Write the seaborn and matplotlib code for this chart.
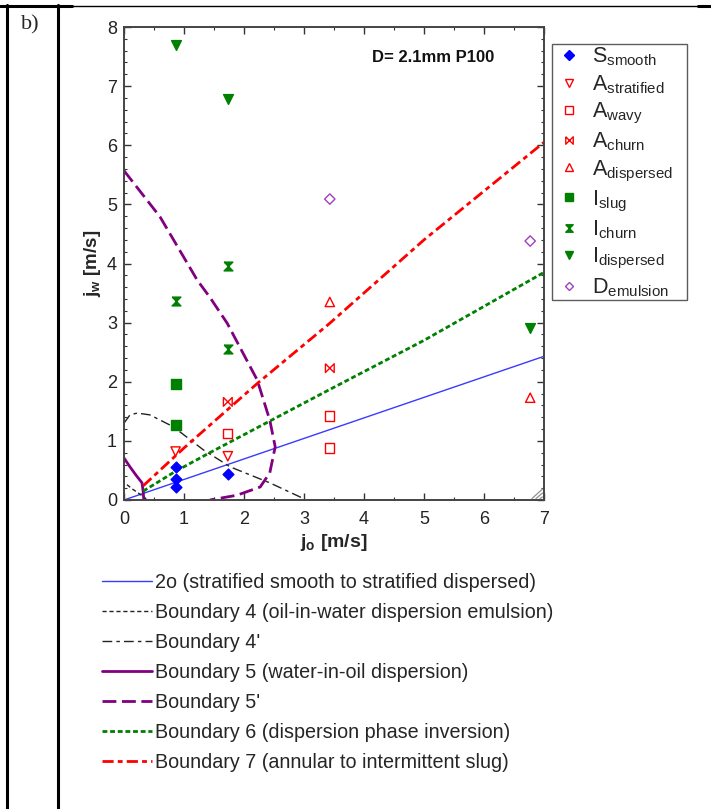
import matplotlib
matplotlib.use("Agg")
import matplotlib.pyplot as plt
from matplotlib.lines import Line2D
import seaborn as sns

# ---- observed flow patterns: superficial oil velocity j_o vs water velocity j_w [m/s]
s_smooth_jo = [0.86, 0.86, 0.86, 1.73]
s_smooth_jw = [0.56, 0.35, 0.22, 0.44]
a_strat_jo = [0.86, 1.73]
a_strat_jw = [0.82, 0.74]
a_wavy_jo = [1.73, 3.43, 3.43]
a_wavy_jw = [1.12, 1.42, 0.88]
a_churn_jo = [1.73, 3.43]
a_churn_jw = [1.66, 2.23]
a_disp_jo = [3.43, 6.77]
a_disp_jw = [3.35, 1.73]
i_slug_jo = [0.86, 0.86]
i_slug_jw = [1.96, 1.27]
i_churn_jo = [0.86, 1.73, 1.73]
i_churn_jw = [3.37, 2.55, 3.96]
i_disp_jo = [0.86, 1.73, 6.77]
i_disp_jw = [7.70, 6.78, 2.91]
d_emul_jo = [3.43, 6.77]
d_emul_jw = [5.09, 4.38]

# ---- transition boundaries
b2o_jo = [0.0, 7.0]
b2o_jw = [0.0, 2.43]
b4_jo = [0.05, 0.12, 0.22, 0.32, 0.37]
b4_jw = [0.26, 0.20, 0.13, 0.06, 0.02]
b4p_jo = [0.0, 0.1, 0.22, 0.43, 0.82, 1.32, 1.77, 2.43, 2.98]
b4p_jw = [1.30, 1.44, 1.47, 1.44, 1.24, 0.85, 0.56, 0.29, 0.03]
b5_jo = [0.0, 0.1, 0.2, 0.3, 0.32, 0.33]
b5_jw = [0.71, 0.56, 0.42, 0.29, 0.14, 0.0]
b5p_jo = [0.0, 0.6, 1.22, 1.43, 1.72, 2.22, 2.43, 2.52, 2.43, 2.27, 1.88, 1.43]
b5p_jw = [5.57, 4.79, 3.72, 3.43, 2.99, 2.03, 1.35, 0.90, 0.46, 0.22, 0.08, 0.0]
b6_jo = [0.32, 0.85, 1.43, 3.43, 5.0, 7.0]
b6_jw = [0.15, 0.48, 0.80, 1.87, 2.70, 3.85]
b7_jo = [0.32, 1.0, 2.22, 3.43, 5.0, 7.0]
b7_jw = [0.24, 0.88, 1.97, 2.99, 4.40, 6.05]

x_ticks = [0, 1, 2, 3, 4, 5, 6, 7]
y_ticks = [0, 1, 2, 3, 4, 5, 6, 7, 8]

sns.set_style("ticks")
plt.rcParams["font.family"] = ["Liberation Sans", "DejaVu Sans"]
plt.rcParams["mathtext.fontset"] = "custom"
plt.rcParams["mathtext.rm"] = "Liberation Sans"
plt.rcParams["mathtext.it"] = "Liberation Sans:italic:bold"
plt.rcParams["mathtext.bf"] = "Liberation Sans:bold"
plt.rcParams["mathtext.default"] = "regular"
plt.rcParams["lines.scale_dashes"] = False

W, H = 711, 809
fig = plt.figure(figsize=(W / 100, H / 100), dpi=100)
ax = fig.add_axes([124 / W, 1 - 500 / H, 420 / W, 473 / H])

RED = "#ff0000"
GREEN = "#008000"
BLUE = "#0000ff"

# boundary curves
lines = [
    (b2o_jo, b2o_jw, "2o (stratified smooth to stratified dispersed)", "#3a3aff", 1.0, "-"),
    (b4_jo, b4_jw, "Boundary 4 (oil-in-water dispersion emulsion)", "#222222", 1.0, (0, (3, 2))),
    (b4p_jo, b4p_jw, "Boundary 4'", "#222222", 1.0, (0, (7, 3, 2.5, 3))),
    (b5_jo, b5_jw, "Boundary 5 (water-in-oil dispersion)", "#800080", 2.0, "-"),
    (b5p_jo, b5p_jw, "Boundary 5'", "#800080", 2.0, (0, (10, 4))),
    (b6_jo, b6_jw, "Boundary 6 (dispersion phase inversion)", GREEN, 2.0, (0, (3.5, 2))),
    (b7_jo, b7_jw, "Boundary 7 (annular to intermittent slug)", RED, 2.0, (0, (8, 3, 3.5, 3))),
]
line_handles = []
for xs, ys, lab, col, lw, ls in lines:
    sns.lineplot(x=xs, y=ys, sort=False, estimator=None, color=col, lw=lw,
                 linestyle=ls, ax=ax, legend=False)
    line_handles.append(Line2D([], [], color=col, lw=lw, linestyle=ls))
line_labels = [l[2] for l in lines]

hourglass = [(-1, 1), (1, 1), (-1, -1), (1, -1), (-1, 1)]
bowtie = [(-1, 1), (-1, -1), (1, 1), (1, -1), (-1, 1)]

points = [
    (s_smooth_jo, s_smooth_jw, r"S$_{smooth}$", "D", BLUE, True, 30),
    (a_strat_jo, a_strat_jw, r"A$_{stratified}$", "v", RED, False, 45),
    (a_wavy_jo, a_wavy_jw, r"A$_{wavy}$", "s", RED, False, 45),
    (a_churn_jo, a_churn_jw, r"A$_{churn}$", bowtie, RED, False, 40),
    (a_disp_jo, a_disp_jw, r"A$_{dispersed}$", "^", RED, False, 45),
    (i_slug_jo, i_slug_jw, r"I$_{slug}$", "s", GREEN, True, 50),
    (i_churn_jo, i_churn_jw, r"I$_{churn}$", hourglass, GREEN, True, 40),
    (i_disp_jo, i_disp_jw, r"I$_{dispersed}$", "v", GREEN, True, 50),
    (d_emul_jo, d_emul_jw, r"D$_{emulsion}$", "D", "#a040c0", False, 28),
]
pt_handles = []
for xs, ys, lab, mk, col, filled, size in points:
    fc = col if filled else "none"
    sns.scatterplot(x=xs, y=ys, marker=mk, s=size, facecolors=fc, edgecolors=col,
                    linewidths=1.0, zorder=5, ax=ax, legend=False)
    pt_handles.append(Line2D([], [], linestyle="none", marker=mk,
                             markersize=size ** 0.5 * 0.85,
                             markerfacecolor=fc, markeredgecolor=col,
                             markeredgewidth=1.0))
pt_labels = [p[2] for p in points]

ax.set_xlim(0, 7)
ax.set_ylim(0, 8)
ax.set_xticks(x_ticks)
ax.set_yticks(y_ticks)
ax.set_xticks([v + 0.5 for v in x_ticks[:-1]], minor=True)
ax.set_yticks([v + f for v in y_ticks[:-1] for f in (0.2, 0.4, 0.6, 0.8)], minor=True)
ax.tick_params(which="both", direction="in", top=True, right=True,
               colors="#333333", labelcolor="#222222")
ax.tick_params(which="major", length=5, width=1.0, labelsize=13)
ax.tick_params(axis="x", which="major", pad=8)
ax.tick_params(axis="y", which="major", pad=5)
ax.tick_params(which="minor", length=2.5, width=0.8)
for sp in ax.spines.values():
    sp.set_color("#444444")
    sp.set_linewidth(1.4)

ax.set_xlabel(r"$j_o$ [m/s]", fontsize=14, fontweight="bold", labelpad=3)
ax.set_ylabel(r"$j_w$ [m/s]", fontsize=13.5, fontweight="bold", labelpad=3)

ax.text(5.15, 7.48, "D= 2.1mm P100", fontsize=12, fontweight="bold",
        ha="center", va="center", color="#111111")

# small resize grip in the lower-right corner
for d in (4, 8, 12):
    ax.plot([1 - d / 420, 1 - 1.5 / 420], [1.5 / 473, (d - 1) / 473],
            transform=ax.transAxes, color="#909090", lw=0.9, clip_on=False)

leg = ax.legend(pt_handles, pt_labels, loc="upper left",
                bbox_to_anchor=(552 / W, 1 - 306 / H, 135 / W, 262 / H),
                bbox_transform=fig.transFigure, mode="expand", borderaxespad=0,
                fontsize=15.5, frameon=True, fancybox=False, edgecolor="#333333",
                handlelength=1.4, handletextpad=0.38, labelspacing=0.23,
                borderpad=0.08)
leg.get_frame().set_linewidth(1.0)

fig.legend(line_handles, line_labels, loc="upper left",
           bbox_to_anchor=(102 / W, 1 - 573 / H), frameon=False, fontsize=14.2,
           handlelength=2.55, handletextpad=0.12, labelspacing=0.56,
           borderpad=0, borderaxespad=0)

# table cell frame
fig.add_artist(Line2D([7 / W, 7 / W], [0, 1 - 5 / H], color="black", lw=2.2,
                      transform=fig.transFigure))
fig.add_artist(Line2D([58 / W, 58 / W], [0, 1 - 5 / H], color="black", lw=2.2,
                      transform=fig.transFigure))
fig.add_artist(Line2D([0, 1], [1 - 5.5 / H, 1 - 5.5 / H], color="black", lw=1.0,
                      transform=fig.transFigure))
fig.add_artist(Line2D([0, 72 / W], [1 - 5.5 / H, 1 - 5.5 / H], color="black", lw=2.2,
                      transform=fig.transFigure))
fig.add_artist(Line2D([698 / W, 1], [1 - 5.5 / H, 1 - 5.5 / H], color="black", lw=2.2,
                      transform=fig.transFigure))
fig.text(21 / W, 1 - 25 / H, "b)", family=["Liberation Serif", "DejaVu Serif"],
         fontsize=16, ha="left", va="center")

fig.savefig("out.png", dpi=100)
